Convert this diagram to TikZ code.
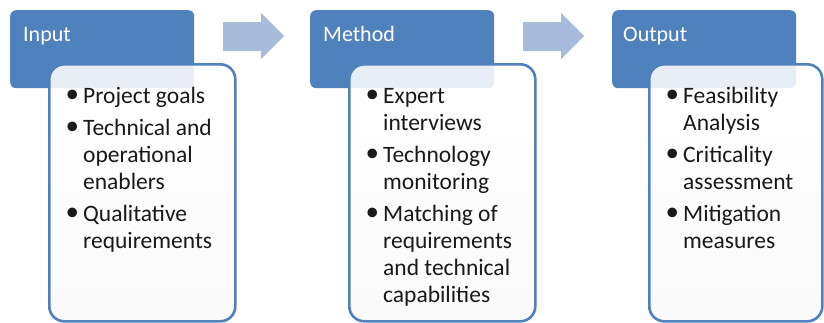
\documentclass[tikz,border=0pt]{standalone}
\usepackage{fontspec}
\setmainfont{Carlito}
\definecolor{hblue}{RGB}{79,129,189}
\definecolor{ablue}{RGB}{167,187,218}
\newcommand{\bul}{\raisebox{0.3pt}{\scalebox{1.15}{\textbullet}}}
\begin{document}
\begin{tikzpicture}[x=1pt,y=-1pt,
  head/.style={fill=hblue, rounded corners=6pt, inner sep=0pt, anchor=north west, minimum width=184pt, minimum height=78pt},
  headtxt/.style={text=white, font=\fontsize{22}{26}\selectfont, inner sep=0pt, anchor=base west},
  card/.style={draw=hblue, line width=2.6pt, rounded corners=15pt, top color=white, bottom color=black!2, fill opacity=0.87, draw opacity=1, inner sep=0pt, anchor=north west, minimum height=257pt},
  cardtxt/.style={font=\fontsize{23.5}{27}\selectfont, inner sep=0pt, anchor=base west, text=black!90},
  blockarrow/.style={fill=ablue}]
\useasboundingbox (0,0) rectangle (824,322);
\fill[white] (0,0) rectangle (824,322);
% arrows
\fill[blockarrow] (223,22) -- (261,22) -- (261,13) -- (284,36) -- (261,59) -- (261,51) -- (223,51) -- cycle;
\fill[blockarrow] (523,22) -- (561,22) -- (561,13) -- (584,36) -- (561,59) -- (561,51) -- (523,51) -- cycle;
% headers
\node[head] (h1) at (10,10) {};
\node[head] (h2) at (310,10) {};
\node[head] (h3) at (612,10) {};
\node[headtxt] (h1t) at (23,41) {Input};
\node[headtxt] (h2t) at (323,41) {Method};
\node[headtxt] (h3t) at (623,41) {Output};
% cards
\node[card, minimum width=186pt] (c1) at (48,63) {};
\node[card, minimum width=186pt] (c2) at (348,63) {};
\node[card, minimum width=173pt] (c3) at (648,63) {};
\node[cardtxt] (c1t) at (65.5,103) {\begin{tabular}[t]{@{}l@{\hspace{4pt}}l@{}}
\bul & Project goals\\[5pt]
\bul & Technical and\\ & operational\\ & enablers\\[5pt]
\bul & Qualitative\\ & requirements
\end{tabular}};
\node[cardtxt] (c2t) at (365.5,103) {\begin{tabular}[t]{@{}l@{\hspace{4pt}}l@{}}
\bul & Expert\\ & interviews\\[5pt]
\bul & Technology\\ & monitoring\\[5pt]
\bul & Matching of\\ & requirements\\ & and technical\\ & capabilities
\end{tabular}};
\node[cardtxt] (c3t) at (665.5,103) {\begin{tabular}[t]{@{}l@{\hspace{4pt}}l@{}}
\bul & Feasibility\\ & Analysis\\[5pt]
\bul & Criticality\\ & assessment\\[5pt]
\bul & Mitigation\\ & measures
\end{tabular}};
\end{tikzpicture}
\end{document}
